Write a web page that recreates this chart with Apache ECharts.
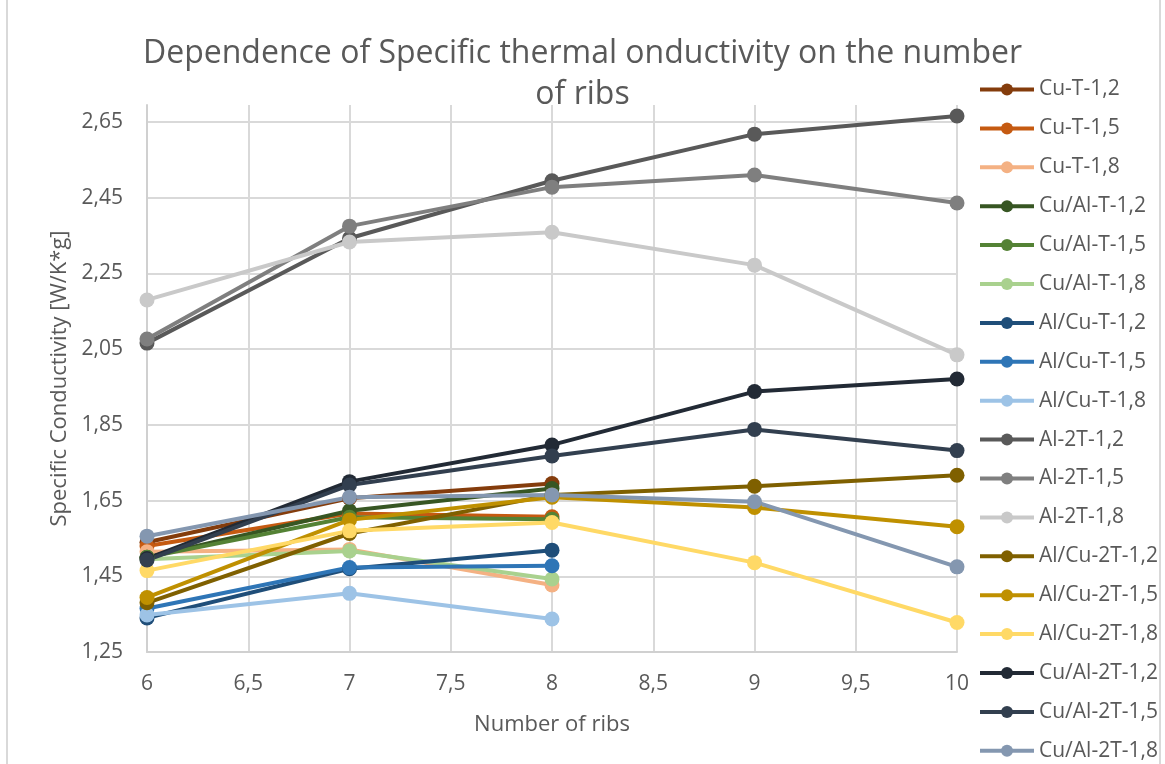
<!DOCTYPE html>
<html>
<head>
<meta charset="utf-8">
<script src="https://cdn.jsdelivr.net/npm/echarts@6/dist/echarts.min.js"></script>
<style>
  html, body { margin: 0; padding: 0; background: #fff; }
  #chart { width: 1165px; height: 764px; }
</style>
</head>
<body>
<div id="chart"></div>
<script>
// number of ribs (x values)
const ribs = [6, 7, 8, 9, 10]

// specific conductivity, W/K*g
const cuT12 = [1.54, 1.656, 1.695]
const cuT15 = [1.53, 1.616, 1.607]
const cuT18 = [1.515, 1.521, 1.427]
const cuAlT12 = [1.50, 1.623, 1.682]
const cuAlT15 = [1.50, 1.606, 1.601]
const cuAlT18 = [1.495, 1.517, 1.443]
const alCuT12 = [1.34, 1.47, 1.519]
const alCuT15 = [1.365, 1.473, 1.478]
const alCuT18 = [1.348, 1.405, 1.337]
const al2T12 = [2.066, 2.343, 2.495, 2.618, 2.666]
const al2T15 = [2.077, 2.375, 2.478, 2.51, 2.436]
const al2T18 = [2.18, 2.333, 2.359, 2.272, 2.035]
const alCu2T12 = [1.38, 1.563, 1.665, 1.688, 1.717]
const alCu2T15 = [1.394, 1.599, 1.659, 1.632, 1.581]
const alCu2T18 = [1.465, 1.57, 1.592, 1.486, 1.328]
const cuAl2T12 = [1.497, 1.70, 1.797, 1.938, 1.971]
const cuAl2T15 = [1.493, 1.691, 1.768, 1.838, 1.782]
const cuAl2T18 = [1.556, 1.659, 1.665, 1.647, 1.475]

const names = [
    'Cu-T-1,2', 'Cu-T-1,5', 'Cu-T-1,8',
    'Cu/Al-T-1,2', 'Cu/Al-T-1,5', 'Cu/Al-T-1,8',
    'Al/Cu-T-1,2', 'Al/Cu-T-1,5', 'Al/Cu-T-1,8',
    'Al-2T-1,2', 'Al-2T-1,5', 'Al-2T-1,8',
    'Al/Cu-2T-1,2', 'Al/Cu-2T-1,5', 'Al/Cu-2T-1,8',
    'Cu/Al-2T-1,2', 'Cu/Al-2T-1,5', 'Cu/Al-2T-1,8'
]
const values = [
    cuT12, cuT15, cuT18,
    cuAlT12, cuAlT15, cuAlT18,
    alCuT12, alCuT15, alCuT18,
    al2T12, al2T15, al2T18,
    alCu2T12, alCu2T15, alCu2T18,
    cuAl2T12, cuAl2T15, cuAl2T18
]
const colors = [
    '#843c0c', '#c55a11', '#f4b183',
    '#375623', '#548235', '#a9d18e',
    '#1f4e79', '#2e75b6', '#9dc3e6',
    '#595959', '#7f7f7f', '#c9c9c9',
    '#7f6000', '#bf9000', '#ffd966',
    '#222a35', '#323f4f', '#8497b0'
]

const font = '"Open Sans", sans-serif'
const comma = v => String(v).replace('.', ',')

const series = names.map((name, i) => ({
    name: name,
    type: 'line',
    data: values[i].map((v, k) => [ribs[k], v]),
    symbol: 'circle',
    symbolSize: 15,
    lineStyle: {width: 4, color: colors[i]},
    itemStyle: {color: colors[i]},
    emphasis: {disabled: true}
}))

echarts.init(document.getElementById('chart')).setOption({
    animation: false,
    color: colors,
    // chart area border, as in the spreadsheet export
    graphic: [{
        type: 'rect',
        shape: {x: 7, y: -10, width: 1153, height: 790},
        style: {fill: 'none', stroke: '#d9d9d9', lineWidth: 2},
        silent: true
    }],
    title: {
        text: 'Dependence of Specific thermal onductivity on the number\nof ribs',
        left: 'center',
        top: 28,
        textStyle: {fontFamily: font, fontSize: 32, fontWeight: 'normal', color: '#595959', lineHeight: 41}
    },
    legend: {
        orient: 'vertical',
        left: 978,
        top: 79,
        padding: 0,
        itemWidth: 54,
        itemHeight: 15,
        itemGap: 17.9,
        lineStyle: {width: 4},
        textStyle: {fontFamily: font, fontSize: 21, lineHeight: 20, color: '#595959'},
        data: names
    },
    grid: {left: 147, right: 208, top: 105, bottom: 112},
    xAxis: {
        type: 'value',
        min: 6,
        max: 10,
        interval: 0.5,
        name: 'Number of ribs',
        nameLocation: 'middle',
        nameGap: 62,
        nameTextStyle: {fontFamily: font, fontSize: 22, color: '#595959'},
        axisLine: {lineStyle: {color: '#d0d0d0', width: 2}},
        axisTick: {show: false},
        axisLabel: {fontFamily: font, fontSize: 21, color: '#595959', margin: 22, formatter: comma},
        splitLine: {show: true, lineStyle: {color: '#d9d9d9', width: 2}}
    },
    yAxis: {
        type: 'value',
        min: 1.25,
        max: 2.695,
        interval: 0.2,
        name: 'Specific Conductivity [W/K*g]',
        nameLocation: 'middle',
        nameGap: 76,
        nameTextStyle: {fontFamily: font, fontSize: 22, color: '#595959'},
        axisLine: {show: true, lineStyle: {color: '#d0d0d0', width: 2}},
        axisTick: {show: false},
        axisLabel: {
            fontFamily: font, fontSize: 21, color: '#595959', margin: 24,
            showMaxLabel: false,
            formatter: v => v.toFixed(2).replace('.', ',')
        },
        splitLine: {show: true, showMaxLine: false, lineStyle: {color: '#d9d9d9', width: 2}}
    },
    series: series
})
</script>
</body>
</html>
